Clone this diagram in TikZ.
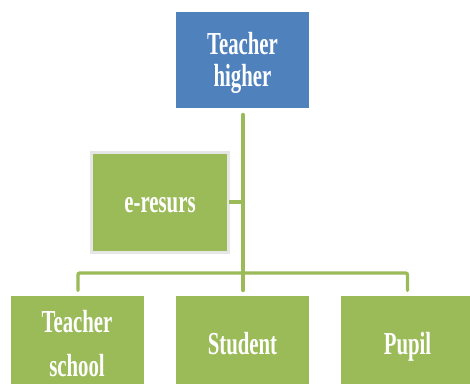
\documentclass[tikz,border=0pt]{standalone}
\usepackage{fontspec}
\setmainfont{Liberation Serif}
\definecolor{boxgreen}{HTML}{9BBB59}
\definecolor{boxblue}{HTML}{4F81BD}
\definecolor{boxedge}{HTML}{E6E6E6}
\newcommand{\narrowlabel}[1]{\raisebox{-3.7pt}[22.4pt][9.6pt]{\scalebox{.65}[1]{\bfseries #1}}}
\tikzset{
  orgbox/.style={minimum width=133pt,minimum height=96pt,inner sep=0pt,outer sep=0pt,text=white,align=center,font=\fontsize{32}{32}\selectfont},
  greenbox/.style={orgbox,fill=boxgreen},
  bluebox/.style={orgbox,fill=boxblue},
  edgedbox/.style={greenbox,draw=boxedge,line width=3pt,minimum width=137pt,minimum height=100pt},
  link/.style={draw=boxgreen,line width=3.4pt,line cap=round}
}
\begin{document}
\begin{tikzpicture}[x=1pt,y=-1pt]
\clip (0,0) rectangle (470,383);
\fill[white] (0,0) rectangle (470,383);
\node[bluebox] (top) at (242.5,60) {\narrowlabel{Teacher}\\\narrowlabel{higher}};
\node[edgedbox] (res) at (160,202) {\narrowlabel{e-resurs}};
\node[greenbox] (school) at (77,344) {\narrowlabel{Teacher}\\[12pt]\narrowlabel{school}};
\node[greenbox] (student) at (242.5,344) {\narrowlabel{Student}};
\node[greenbox] (pupil) at (407.5,344) {\narrowlabel{Pupil}};
\coordinate (tap) at ([xshift=.5pt]res.east -| top.south);
\draw[link,shorten <=6.5pt,shorten >=5.5pt] ([xshift=.5pt]top.south) -- ([xshift=.5pt]student.north);
\draw[link,line cap=butt] (res.east) -- (tap);
\draw[link,rounded corners=2pt,shorten <=5.5pt,shorten >=5.5pt] ([xshift=1pt]school.north) -- ++(0,-23) -| (pupil.north);
\end{tikzpicture}
\end{document}
